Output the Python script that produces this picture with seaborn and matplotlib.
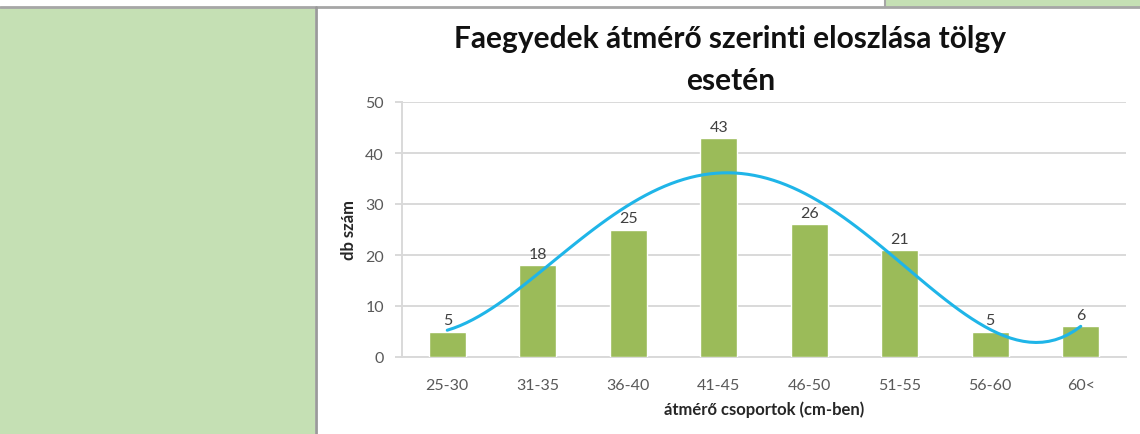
import matplotlib
matplotlib.use("Agg")
import matplotlib.pyplot as plt
import seaborn as sns
import numpy as np
import pandas as pd
from matplotlib.patches import Rectangle
from matplotlib.lines import Line2D

categories = ["25-30", "31-35", "36-40", "41-45", "46-50", "51-55", "56-60", "60<"]
counts = [5, 18, 25, 43, 26, 21, 5, 6]
yticks = [0, 10, 20, 30, 40, 50]
title_lines = ["Faegyedek átmérő szerinti eloszlása tölgy", "esetén"]
xlabel = "átmérő csoportok (cm-ben)"
ylabel = "db szám"
trend_order = 4

sns.set_theme(style="white")
plt.rcParams['font.family'] = ['Lato', 'DejaVu Sans']

W, H = 1140, 435
fig = plt.figure(figsize=(W / 100, H / 100), dpi=100)

# background decoration of the screenshot
fig.patches.append(Rectangle((0, 0), 315 / W, (H - 9) / H, transform=fig.transFigure,
                             facecolor="#C5E0B4", edgecolor="none", zorder=0))
fig.patches.append(Rectangle((885 / W, (H - 8) / H), (W - 885) / W, 8 / H, transform=fig.transFigure,
                             facecolor="#C5E0B4", edgecolor="none", zorder=0))
fig.lines.append(Line2D([0, 1], [(H - 8) / H] * 2, transform=fig.transFigure, color="#A6A6A6", lw=2))
fig.lines.append(Line2D([885 / W] * 2, [(H - 8) / H, 1], transform=fig.transFigure, color="#A6A6A6", lw=1.5))
fig.lines.append(Line2D([316.5 / W] * 2, [0, (H - 8) / H], transform=fig.transFigure, color="#9A9A9A", lw=2))

ax = fig.add_axes([402 / W, 77 / H, (1126 - 402) / W, (358 - 103) / H])
df = pd.DataFrame({"cat": categories, "n": counts, "pos": np.arange(len(categories))})

sns.barplot(data=df, x="cat", y="n", color="#9BBB59", width=0.41, saturation=1, ax=ax, zorder=3)
sns.regplot(data=df, x="pos", y="n", order=trend_order, ci=None, scatter=False, truncate=True,
            line_kws={"color": "#1FB5E8", "lw": 2.2, "zorder": 4, "solid_capstyle": "round"}, ax=ax)

for i, v in enumerate(counts):
    ax.annotate(str(v), (i, v), xytext=(0, 3), textcoords="offset points", ha="center", va="bottom",
                fontsize=11.5, color="#404040", zorder=5)

ax.set_xlim(-0.5, len(categories) - 0.5)
ax.set_ylim(0, 50)
ax.set_yticks(yticks)
ax.set_xticks(range(len(categories)))
ax.set_xticklabels(categories)
ax.grid(axis="y", color="#D9D9D9", lw=1.4, zorder=0)
ax.set_axisbelow(True)
for s in ["top", "right"]:
    ax.spines[s].set_visible(False)
for s in ["left", "bottom"]:
    ax.spines[s].set_color("#D9D9D9")
    ax.spines[s].set_linewidth(1.4)
ax.tick_params(axis="y", left=True, length=5, width=1.4, color="#D9D9D9", labelsize=11.5,
               labelcolor="#595959", pad=8)
ax.tick_params(axis="x", bottom=False, labelsize=11.5, labelcolor="#595959", pad=9)
ax.set_xlabel(xlabel, fontsize=12, fontweight="bold", color="#262626", labelpad=6)
ax.set_ylabel(ylabel, fontsize=12, fontweight="bold", color="#262626", labelpad=6)

fig.text(730 / W, 1 - 48 / H, title_lines[0], ha="center", va="baseline", fontsize=21.5,
         fontweight="bold", color="#111111")
fig.text(731 / W, 1 - 90 / H, title_lines[1], ha="center", va="baseline", fontsize=21.5,
         fontweight="bold", color="#111111")

fig.savefig("out.png", dpi=100)
